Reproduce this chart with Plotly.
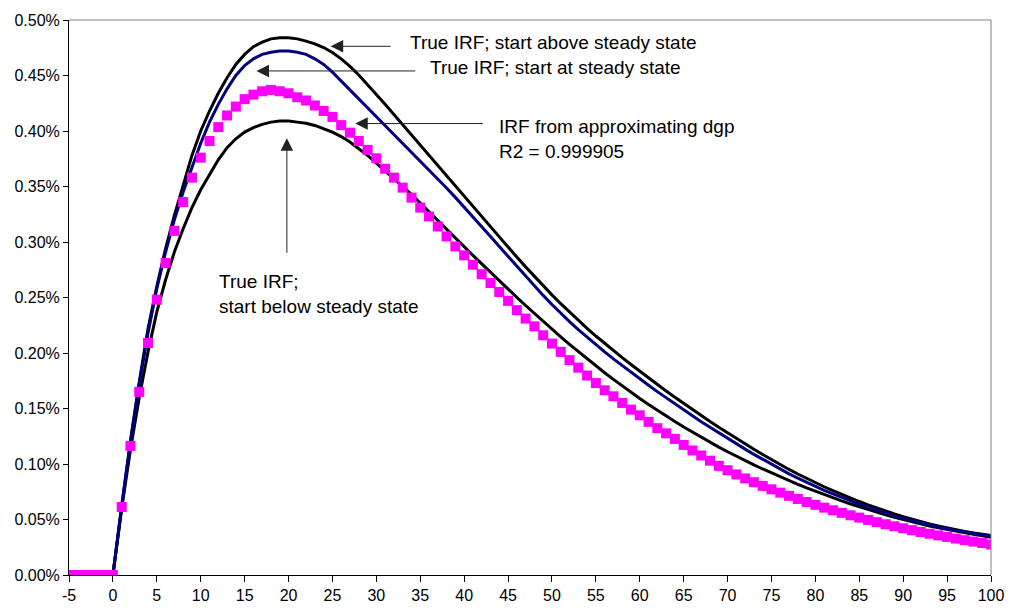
import plotly.graph_objects as go

# ---- data (values in percent) ----
x_line = list(range(0, 101))

irf_above = [
    0.0, 0.063, 0.121, 0.174, 0.222, 0.260, 0.294, 0.324, 0.352, 0.378,
    0.400, 0.418, 0.434, 0.448, 0.460, 0.469, 0.476, 0.480, 0.483, 0.484,
    0.484, 0.483, 0.481, 0.4785, 0.4752, 0.4707, 0.4650, 0.4582, 0.4505, 0.4420,
    0.4331, 0.4240, 0.4148, 0.4056, 0.3964, 0.3872, 0.3780, 0.3687, 0.3594, 0.3501,
    0.3409, 0.3317, 0.3225, 0.3134, 0.3043, 0.2953, 0.2864, 0.2776, 0.2690, 0.2606,
    0.2524, 0.2444, 0.2367, 0.2293, 0.2222, 0.2153, 0.2086, 0.2021, 0.1958, 0.1896,
    0.1835, 0.1775, 0.1716, 0.1658, 0.1601, 0.1545, 0.1490, 0.1436, 0.1383, 0.1331,
    0.1280, 0.1230, 0.1181, 0.1133, 0.1086, 0.1040, 0.0995, 0.0951, 0.0910, 0.0870,
    0.0832, 0.0795, 0.0760, 0.0726, 0.0693, 0.0662, 0.0632, 0.0603, 0.0576, 0.0550,
    0.0525, 0.0502, 0.0480, 0.0460, 0.0441, 0.0423, 0.0407, 0.0392, 0.0378, 0.0366,
    0.0355,
]

irf_at = [
    0.0, 0.063, 0.120, 0.172, 0.218, 0.258, 0.291, 0.320, 0.345, 0.368,
    0.389, 0.408, 0.424, 0.438, 0.450, 0.459, 0.465, 0.469, 0.471, 0.472,
    0.472, 0.471, 0.469, 0.465, 0.460, 0.453, 0.445, 0.437, 0.429, 0.421,
    0.413, 0.405, 0.397, 0.389, 0.381, 0.373, 0.3652, 0.3570, 0.3487, 0.3402,
    0.3316, 0.3228, 0.3139, 0.3049, 0.2959, 0.2869, 0.2780, 0.2692, 0.2605, 0.2519,
    0.2437, 0.2358, 0.2283, 0.2211, 0.2142, 0.2075, 0.2010, 0.1947, 0.1886, 0.1826,
    0.1767, 0.1709, 0.1652, 0.1596, 0.1541, 0.1487, 0.1434, 0.1381, 0.1330, 0.1279,
    0.1230, 0.1181, 0.1134, 0.1087, 0.1042, 0.0997, 0.0954, 0.0911, 0.0872, 0.0834,
    0.0798, 0.0763, 0.0730, 0.0698, 0.0667, 0.0638, 0.0610, 0.0583, 0.0557, 0.0533,
    0.0510, 0.0489, 0.0468, 0.0450, 0.0432, 0.0416, 0.0401, 0.0387, 0.0374, 0.0362,
    0.0352,
]

irf_below = [
    0.0, 0.060, 0.113, 0.160, 0.201, 0.237, 0.266, 0.291, 0.312, 0.331,
    0.347, 0.361, 0.374, 0.385, 0.393, 0.399, 0.403, 0.406, 0.408, 0.409,
    0.409, 0.408, 0.407, 0.405, 0.402, 0.399, 0.395, 0.390, 0.384, 0.378,
    0.371, 0.364, 0.357, 0.350, 0.343, 0.335, 0.327, 0.3192, 0.3114, 0.3036,
    0.2958, 0.2880, 0.2803, 0.2726, 0.2650, 0.2575, 0.2501, 0.2428, 0.2356, 0.2285,
    0.2215, 0.2146, 0.2078, 0.2012, 0.1947, 0.1884, 0.1822, 0.1762, 0.1703, 0.1646,
    0.1590, 0.1536, 0.1483, 0.1432, 0.1382, 0.1333, 0.1286, 0.1240, 0.1195, 0.1152,
    0.1110, 0.1069, 0.1030, 0.0992, 0.0955, 0.0919, 0.0884, 0.0850, 0.0817, 0.0785,
    0.0754, 0.0724, 0.0695, 0.0667, 0.0640, 0.0614, 0.0589, 0.0565, 0.0542, 0.0520,
    0.0499, 0.0479, 0.0460, 0.0442, 0.0425, 0.0409, 0.0394, 0.0380, 0.0366, 0.0353,
    0.0341,
]

x_approx = list(range(-5, 101))
irf_approx = [
    0.0, 0.0, 0.0, 0.0, 0.0, 0.0,
    0.0613, 0.1163, 0.165, 0.209, 0.248, 0.281, 0.310, 0.336, 0.358, 0.376,
    0.391, 0.4035, 0.414, 0.422, 0.4287, 0.4328, 0.4358, 0.437, 0.4358, 0.434,
    0.4304, 0.4275, 0.423, 0.418, 0.4127, 0.4053, 0.3985, 0.391, 0.383, 0.3754,
    0.366, 0.358, 0.349, 0.340, 0.331, 0.323, 0.314, 0.305, 0.296, 0.288,
    0.2795, 0.271, 0.263, 0.255, 0.247, 0.2386, 0.231, 0.224, 0.216, 0.2085,
    0.201, 0.1936, 0.1868, 0.1797, 0.1729, 0.1664, 0.161, 0.155, 0.149, 0.1439,
    0.138, 0.1323, 0.1276, 0.1226, 0.1172, 0.1122, 0.1077, 0.103, 0.0983, 0.0944,
    0.0906, 0.0870, 0.0836, 0.0803, 0.0772, 0.0742, 0.0713, 0.0685, 0.0658, 0.0632,
    0.0607, 0.0583, 0.0560, 0.0538, 0.0517, 0.0496, 0.0476, 0.0457, 0.0439, 0.0421,
    0.0404, 0.0388, 0.0372, 0.0357, 0.0343, 0.0328, 0.0314, 0.0301, 0.0288, 0.0275,
]

x_ticks = list(range(-5, 101, 5))
x_tick_labels = [str(v) for v in x_ticks]
y_ticks = [0.0, 0.05, 0.10, 0.15, 0.20, 0.25, 0.30, 0.35, 0.40, 0.45, 0.50]
y_tick_labels = ["0.00%", "0.05%", "0.10%", "0.15%", "0.20%", "0.25%",
                 "0.30%", "0.35%", "0.40%", "0.45%", "0.50%"]

FONT = "Liberation Sans, Arial, sans-serif"

fig = go.Figure()
fig.add_trace(go.Scatter(x=x_line, y=irf_below, mode="lines",
                         line=dict(color="black", width=3), name="below"))
fig.add_trace(go.Scatter(x=x_line, y=irf_above, mode="lines",
                         line=dict(color="black", width=3), name="above"))
fig.add_trace(go.Scatter(x=x_line, y=irf_at, mode="lines",
                         line=dict(color="#000080", width=3), name="at"))
fig.add_trace(go.Scatter(x=x_approx, y=irf_approx, mode="markers",
                         marker=dict(symbol="square", size=10, color="#FF00FF",
                                     line=dict(width=0)), name="approx"))

# arrows (tip at x,y; tail at ax,ay)
arrows = [
    dict(x=24.8, y=0.4763, ax=31.8, ay=0.4763),
    dict(x=16.35, y=0.4541, ax=34.6, ay=0.4541),
    dict(x=27.6, y=0.4067, ax=42.3, ay=0.4067),
    dict(x=19.81, y=0.3934, ax=19.81, ay=0.2889),
]
for a in arrows:
    fig.add_annotation(x=a["x"], y=a["y"], ax=a["ax"], ay=a["ay"],
                       xref="x", yref="y", axref="x", ayref="y",
                       text="", showarrow=True, arrowhead=2, arrowsize=2.5,
                       arrowwidth=1, arrowcolor="#222222", standoff=0)

labels = [
    dict(x=33.57, y=0.4793, text="True IRF; start above steady state"),
    dict(x=35.9, y=0.4571, text="True IRF; start at steady state"),
    dict(x=43.72, y=0.3927, text="IRF from approximating dgp<br>R2 = 0.999905"),
    dict(x=11.84, y=0.2536, text="True IRF;<br>start below steady state"),
]
for l in labels:
    fig.add_annotation(x=l["x"], y=l["y"], xref="x", yref="y", text=l["text"],
                       showarrow=False, xanchor="left", yanchor="middle",
                       align="left", font=dict(family=FONT, size=19, color="black"))

# gray plot-area border on top and right
fig.add_shape(type="line", xref="paper", yref="paper", x0=0, x1=1, y0=1, y1=1,
              line=dict(color="#808080", width=1))
fig.add_shape(type="line", xref="paper", yref="paper", x0=1, x1=1, y0=0, y1=1,
              line=dict(color="#808080", width=1))

fig.update_layout(
    width=1016, height=616,
    margin=dict(l=69, r=16, t=15, b=38),
    paper_bgcolor="white", plot_bgcolor="white",
    showlegend=False,
    font=dict(family=FONT, size=16, color="black"),
)
fig.update_xaxes(range=[-5, 100], tickvals=x_ticks, ticktext=x_tick_labels,
                 ticks="outside", ticklen=6,
                 tickcolor="black", showline=True, linecolor="black", linewidth=1,
                 showgrid=False, zeroline=False, tickfont=dict(size=16))
fig.update_yaxes(range=[0, 0.5], tickvals=y_ticks, ticktext=y_tick_labels,
                 ticks="outside", ticklen=5, tickcolor="black", showline=True,
                 linecolor="black", linewidth=1, showgrid=False, zeroline=False,
                 tickfont=dict(size=16))

fig.write_html("out.html")
